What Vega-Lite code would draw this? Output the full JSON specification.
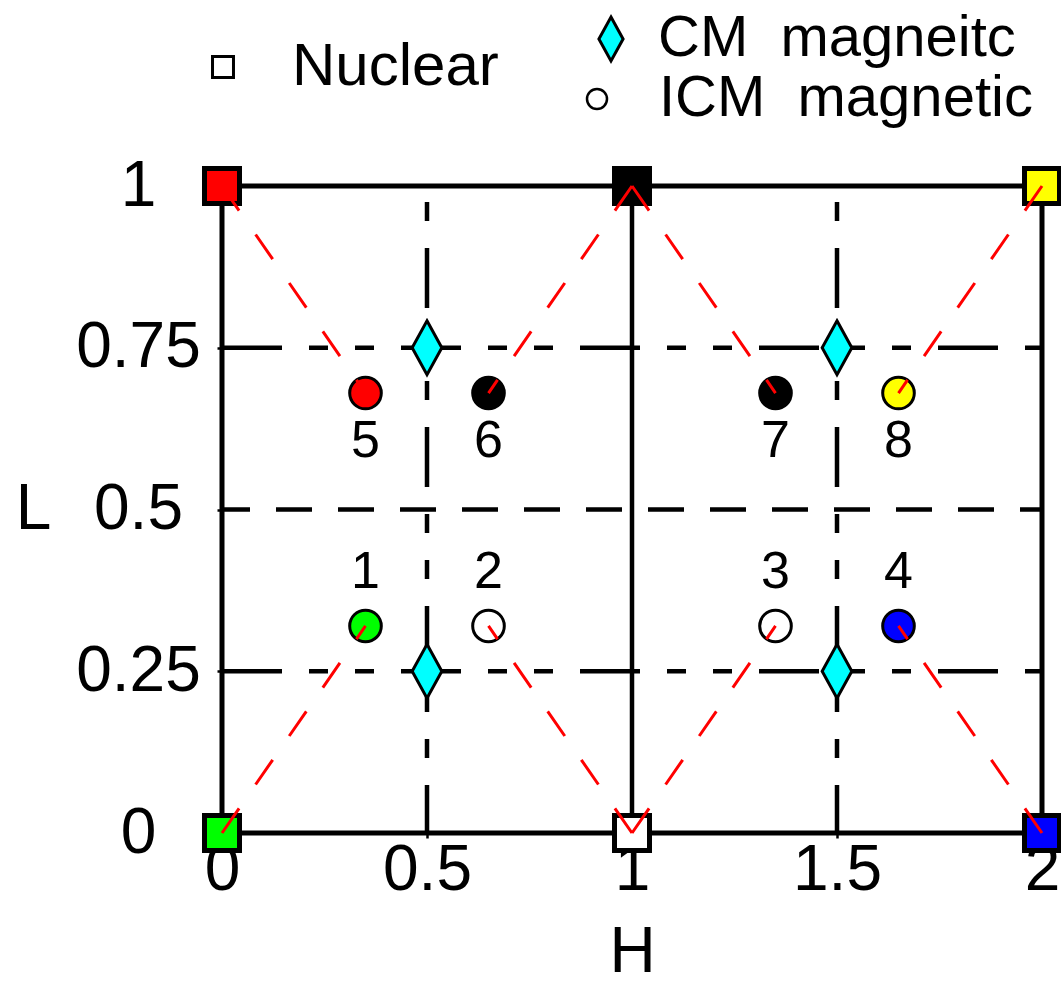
{
  "$schema": "https://vega.github.io/schema/vega-lite/v6.json",
  "width": 820,
  "height": 647,
  "autosize": {"type": "none"},
  "padding": {"left": 222, "top": 186, "right": 19, "bottom": 151},
  "background": "white",
  "config": {
    "font": "Liberation Sans",
    "view": {"stroke": "black", "strokeWidth": 5},
    "axis": {
      "domain": false, "grid": false,
      "tickColor": "black", "tickWidth": 2.5, "tickSize": 5,
      "labelColor": "black", "labelFontSize": 64, "labelFont": "Liberation Sans",
      "titleColor": "black", "titleFontSize": 64, "titleFontWeight": "normal", "titleFont": "Liberation Sans",
      "labelOverlap": false, "labelFlush": false, "labelBound": false
    },
    "legend": {
      "labelFontSize": 58, "labelColor": "black", "labelLimit": 0, "labelFont": "Liberation Sans",
      "padding": 0, "symbolStrokeColor": "black", "title": null
    }
  },
  "datasets": {
    "nuclear": [
      {"H": 0, "L": 1, "peak": "(0,1)", "type": "Nuclear"},
      {"H": 1, "L": 1, "peak": "(1,1)", "type": "Nuclear"},
      {"H": 2, "L": 1, "peak": "(2,1)", "type": "Nuclear"},
      {"H": 0, "L": 0, "peak": "(0,0)", "type": "Nuclear"},
      {"H": 1, "L": 0, "peak": "(1,0)", "type": "Nuclear"},
      {"H": 2, "L": 0, "peak": "(2,0)", "type": "Nuclear"}
    ],
    "cm": [
      {"H": 0.5, "L": 0.75, "type": "CM magneitc"},
      {"H": 1.5, "L": 0.75, "type": "CM magneitc"},
      {"H": 0.5, "L": 0.25, "type": "CM magneitc"},
      {"H": 1.5, "L": 0.25, "type": "CM magneitc"}
    ],
    "icm": [
      {"n": "5", "H": 0.35, "L": 0.68, "peak": "(0,1)", "type": "ICM magnetic"},
      {"n": "6", "H": 0.65, "L": 0.68, "peak": "(1,1)", "type": "ICM magnetic"},
      {"n": "7", "H": 1.35, "L": 0.68, "peak": "(1,1)", "type": "ICM magnetic"},
      {"n": "8", "H": 1.65, "L": 0.68, "peak": "(2,1)", "type": "ICM magnetic"},
      {"n": "1", "H": 0.35, "L": 0.32, "peak": "(0,0)", "type": "ICM magnetic"},
      {"n": "2", "H": 0.65, "L": 0.32, "peak": "(1,0)", "type": "ICM magnetic"},
      {"n": "3", "H": 1.35, "L": 0.32, "peak": "(1,0)", "type": "ICM magnetic"},
      {"n": "4", "H": 1.65, "L": 0.32, "peak": "(2,0)", "type": "ICM magnetic"}
    ],
    "links": [
      {"pair": 5, "step": 0, "H": 0, "L": 1}, {"pair": 5, "step": 1, "H": 0.35, "L": 0.68},
      {"pair": 6, "step": 0, "H": 1, "L": 1}, {"pair": 6, "step": 1, "H": 0.65, "L": 0.68},
      {"pair": 7, "step": 0, "H": 1, "L": 1}, {"pair": 7, "step": 1, "H": 1.35, "L": 0.68},
      {"pair": 8, "step": 0, "H": 2, "L": 1}, {"pair": 8, "step": 1, "H": 1.65, "L": 0.68},
      {"pair": 1, "step": 0, "H": 0, "L": 0}, {"pair": 1, "step": 1, "H": 0.35, "L": 0.32},
      {"pair": 2, "step": 0, "H": 1, "L": 0}, {"pair": 2, "step": 1, "H": 0.65, "L": 0.32},
      {"pair": 3, "step": 0, "H": 1, "L": 0}, {"pair": 3, "step": 1, "H": 1.35, "L": 0.32},
      {"pair": 4, "step": 0, "H": 2, "L": 0}, {"pair": 4, "step": 1, "H": 1.65, "L": 0.32}
    ],
    "gridDashed": [{"L": 0.5}],
    "gridDashDotH": [{"L": 0.25}, {"L": 0.75}],
    "gridDashDotV": [{"H": 0.5}, {"H": 1.5}],
    "gridSolidV": [{"H": 1}]
  },
  "layer": [
    {
      "data": {"name": "gridDashed"},
      "mark": {"type": "rule", "color": "black", "strokeWidth": 4.5, "strokeDash": [36, 26], "strokeDashOffset": 8, "strokeCap": "butt"},
      "encoding": {
        "y": {"field": "L", "type": "quantitative"},
        "x": {"datum": 0},
        "x2": {"datum": 2}
      }
    },
    {
      "data": {"name": "gridDashDotH"},
      "mark": {"type": "rule", "color": "black", "strokeWidth": 4.5, "strokeDash": [60, 27, 19, 27, 19, 27], "strokeDashOffset": 0, "strokeCap": "butt"},
      "encoding": {
        "y": {"field": "L", "type": "quantitative"},
        "x": {"datum": 0},
        "x2": {"datum": 2}
      }
    },
    {
      "data": {"name": "gridDashDotV"},
      "mark": {"type": "rule", "color": "black", "strokeWidth": 4.5, "strokeDash": [60, 27, 19, 27, 19, 27], "strokeDashOffset": 117, "strokeCap": "butt"},
      "encoding": {
        "x": {"field": "H", "type": "quantitative"},
        "y": {"datum": 1},
        "y2": {"datum": 0}
      }
    },
    {
      "data": {"name": "gridSolidV"},
      "mark": {"type": "rule", "color": "black", "strokeWidth": 4.5},
      "encoding": {
        "x": {"field": "H", "type": "quantitative"},
        "y": {"datum": 1},
        "y2": {"datum": 0}
      }
    },
    {
      "data": {"name": "cm"},
      "mark": {"type": "point", "filled": true, "opacity": 1, "stroke": "black", "strokeWidth": 3, "size": 2916},
      "encoding": {
        "x": {"field": "H", "type": "quantitative"},
        "y": {"field": "L", "type": "quantitative"},
        "fill": {
          "field": "type", "type": "nominal",
          "scale": {"domain": ["CM magneitc"], "range": ["#00ffff"]},
          "legend": null
        },
        "shape": {
          "field": "type", "type": "nominal",
          "scale": {"domain": ["CM magneitc"], "range": ["M0,-1L0.55,0L0,1L-0.55,0Z"]},
          "legend": {
            "orient": "none", "legendX": 360, "legendY": -176,
            "symbolSize": 1936, "symbolFillColor": "#00ffff", "symbolStrokeColor": "black", "symbolStrokeWidth": 3,
            "labelOffset": 18,
            "labelExpr": "replace(datum.label, ' ', '\u00a0\u00a0')",
            "encode": {"symbols": {"update": {"fill": {"value": "#00ffff"}, "stroke": {"value": "black"}, "strokeWidth": {"value": 3}, "opacity": {"value": 1}}}}
          }
        }
      }
    },
    {
      "data": {"name": "icm"},
      "mark": {"type": "point", "filled": true, "opacity": 1, "stroke": "black", "strokeWidth": 3, "size": 1000},
      "encoding": {
        "x": {"field": "H", "type": "quantitative"},
        "y": {"field": "L", "type": "quantitative"},
        "fill": {
          "field": "peak", "type": "nominal",
          "scale": {"domain": ["(0,1)", "(1,1)", "(2,1)", "(0,0)", "(1,0)", "(2,0)"], "range": ["#ff0000", "#000000", "#ffff00", "#00ff00", "#ffffff", "#0000ff"]},
          "legend": null
        },
        "shape": {
          "field": "type", "type": "nominal",
          "scale": {"domain": ["ICM magnetic"], "range": ["circle"]},
          "legend": {
            "orient": "none", "legendX": 346, "legendY": -116,
            "symbolSize": 400, "symbolFillColor": "white", "symbolStrokeColor": "black", "symbolStrokeWidth": 2.5,
            "labelOffset": 33,
            "labelExpr": "replace(datum.label, ' ', '\u00a0\u00a0')",
            "encode": {"symbols": {"update": {"fill": {"value": "white"}, "stroke": {"value": "black"}, "strokeWidth": {"value": 3}, "opacity": {"value": 1}}}}
          }
        }
      }
    },
    {
      "data": {"name": "nuclear"},
      "mark": {"type": "point", "filled": true, "opacity": 1, "stroke": "black", "strokeWidth": 5, "size": 1225},
      "encoding": {
        "x": {
          "field": "H", "type": "quantitative",
          "scale": {"domain": [0, 2], "nice": false, "zero": false},
          "axis": {"values": [0, 0.5, 1, 1.5, 2], "format": "~g", "title": "H", "labelPadding": 0, "titlePadding": 18}
        },
        "y": {
          "field": "L", "type": "quantitative",
          "scale": {"domain": [0, 1], "nice": false},
          "axis": {
            "values": [0, 0.25, 0.5, 0.75, 1], "format": "~g", "title": "L",
            "labelAlign": "center", "labelBaseline": "middle", "labelPadding": 79,
            "titleAngle": 0, "titleX": -189, "titleY": 323, "titleAlign": "center", "titleBaseline": "middle"
          }
        },
        "fill": {
          "field": "peak", "type": "nominal",
          "scale": {"domain": ["(0,1)", "(1,1)", "(2,1)", "(0,0)", "(1,0)", "(2,0)"], "range": ["#ff0000", "#000000", "#ffff00", "#00ff00", "#ffffff", "#0000ff"]},
          "legend": null
        },
        "shape": {
          "field": "type", "type": "nominal",
          "scale": {"domain": ["Nuclear"], "range": ["square"]},
          "legend": {
            "orient": "none", "legendX": -29, "legendY": -149,
            "symbolSize": 440, "symbolFillColor": "white", "symbolStrokeColor": "black", "symbolStrokeWidth": 3,
            "labelOffset": 39, "labelFontSize": 60,
            "encode": {"symbols": {"update": {"fill": {"value": "white"}, "stroke": {"value": "black"}, "strokeWidth": {"value": 3.5}, "opacity": {"value": 1}}}}
          }
        }
      }
    },
    {
      "data": {"name": "icm"},
      "transform": [{"filter": "datum.L > 0.5"}],
      "mark": {"type": "text", "fontSize": 52, "color": "black", "align": "center", "baseline": "middle", "dy": 48},
      "encoding": {
        "x": {"field": "H", "type": "quantitative"},
        "y": {"field": "L", "type": "quantitative"},
        "text": {"field": "n"}
      }
    },
    {
      "data": {"name": "icm"},
      "transform": [{"filter": "datum.L < 0.5"}],
      "mark": {"type": "text", "fontSize": 52, "color": "black", "align": "center", "baseline": "middle", "dy": -54},
      "encoding": {
        "x": {"field": "H", "type": "quantitative"},
        "y": {"field": "L", "type": "quantitative"},
        "text": {"field": "n"}
      }
    },
    {
      "data": {"name": "links"},
      "mark": {"type": "line", "color": "#ff0000", "strokeWidth": 3, "strokeDash": [30, 29], "strokeCap": "butt"},
      "encoding": {
        "x": {"field": "H", "type": "quantitative"},
        "y": {"field": "L", "type": "quantitative"},
        "detail": {"field": "pair"},
        "order": {"field": "step"}
      }
    }
  ],
  "resolve": {
    "scale": {"shape": "independent", "fill": "independent"},
    "legend": {"shape": "independent", "fill": "independent"}
  }
}
